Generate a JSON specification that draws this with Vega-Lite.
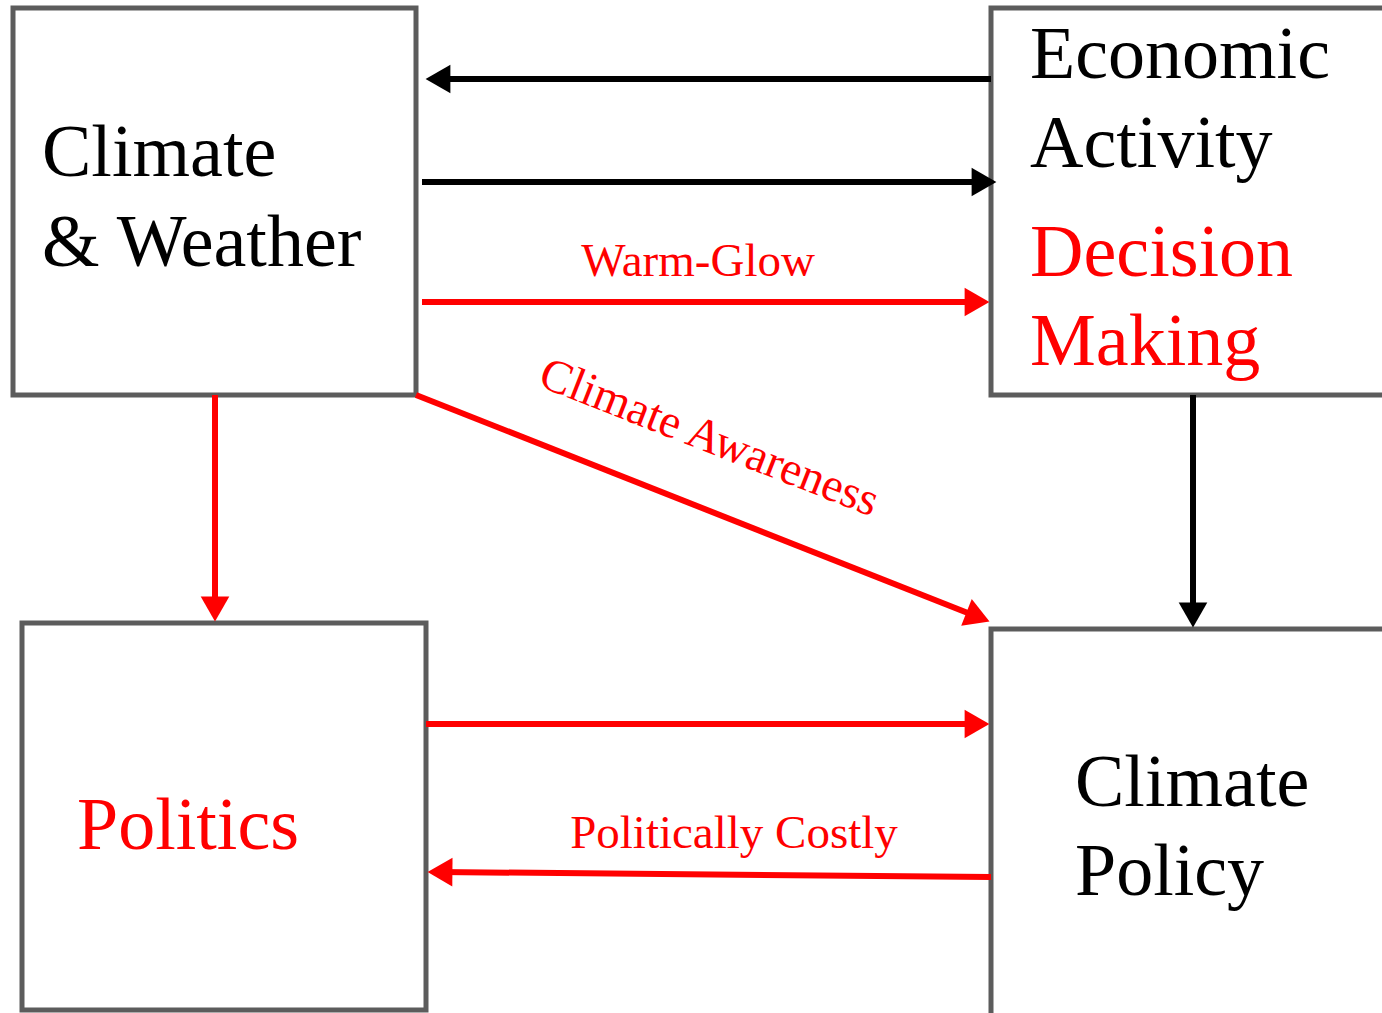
{
  "$schema": "https://vega.github.io/schema/vega-lite/v6.json",
  "width": 1382,
  "height": 1013,
  "autosize": {"type": "fit", "contains": "padding"},
  "padding": 0,
  "background": "white",
  "config": {"view": {"stroke": null}},
  "datasets": {
    "boxes": [
      {"node": "Climate & Weather", "left": 13, "right": 416, "top": 8, "bottom": 395},
      {"node": "Economic Activity / Decision Making", "left": 991, "right": 1400, "top": 8, "bottom": 395},
      {"node": "Politics", "left": 22, "right": 426, "top": 623, "bottom": 1010},
      {"node": "Climate Policy", "left": 991, "right": 1400, "top": 629, "bottom": 1030}
    ],
    "edges": [
      {"edge": "Economic Activity to Climate & Weather", "x1": 991, "y1": 79, "x2": 438, "y2": 79, "hx": 438, "hy": 79, "dir": 270, "type": "standard"},
      {"edge": "Climate & Weather to Economic Activity", "x1": 422, "y1": 182, "x2": 984, "y2": 182, "hx": 984, "hy": 182, "dir": 90, "type": "standard"},
      {"edge": "Warm-Glow", "x1": 422, "y1": 302, "x2": 977, "y2": 302, "hx": 977, "hy": 302, "dir": 90, "type": "new"},
      {"edge": "Climate Awareness", "x1": 416, "y1": 395, "x2": 978, "y2": 617, "hx": 978, "hy": 617, "dir": 111.6, "type": "new"},
      {"edge": "Climate & Weather to Politics", "x1": 215, "y1": 395, "x2": 215, "y2": 609, "hx": 215, "hy": 609, "dir": 180, "type": "new"},
      {"edge": "Decision Making to Climate Policy", "x1": 1193, "y1": 395, "x2": 1193, "y2": 615, "hx": 1193, "hy": 615, "dir": 180, "type": "standard"},
      {"edge": "Politics to Climate Policy", "x1": 426, "y1": 724, "x2": 977, "y2": 724, "hx": 977, "hy": 724, "dir": 90, "type": "new"},
      {"edge": "Politically Costly", "x1": 991, "y1": 877, "x2": 440, "y2": 872, "hx": 440, "hy": 872, "dir": 270.5, "type": "new"}
    ],
    "nodeLabels": [
      {"label": "Climate", "x": 42, "y": 176, "type": "standard"},
      {"label": "& Weather", "x": 42, "y": 266, "type": "standard"},
      {"label": "Economic", "x": 1030, "y": 78, "type": "standard"},
      {"label": "Activity", "x": 1030, "y": 167, "type": "standard"},
      {"label": "Decision", "x": 1030, "y": 276, "type": "new"},
      {"label": "Making", "x": 1030, "y": 365, "type": "new"},
      {"label": "Politics", "x": 77, "y": 849, "type": "new"},
      {"label": "Climate", "x": 1075, "y": 806, "type": "standard"},
      {"label": "Policy", "x": 1075, "y": 895, "type": "standard"}
    ],
    "edgeLabels": [
      {"label": "Warm-Glow", "x": 698, "y": 276, "rot": 0, "type": "new"},
      {"label": "Climate Awareness", "x": 704, "y": 451, "rot": 21.4, "type": "new"},
      {"label": "Politically Costly", "x": 734, "y": 848, "rot": 0, "type": "new"}
    ]
  },
  "layer": [
    {
      "data": {"name": "boxes"},
      "mark": {"type": "rect", "filled": false, "stroke": "#5c5c5c", "strokeWidth": 5, "strokeJoin": "miter", "clip": true},
      "encoding": {
        "x": {"field": "left", "type": "quantitative", "scale": {"domain": [0, 1382], "nice": false, "zero": false}, "axis": null},
        "x2": {"field": "right"},
        "y": {"field": "top", "type": "quantitative", "scale": {"domain": [0, 1013], "nice": false, "zero": false, "reverse": true}, "axis": null},
        "y2": {"field": "bottom"}
      }
    },
    {
      "data": {"name": "edges"},
      "mark": {"type": "rule", "strokeWidth": 6, "strokeCap": "butt"},
      "encoding": {
        "x": {"field": "x1", "type": "quantitative", "axis": null},
        "x2": {"field": "x2"},
        "y": {"field": "y1", "type": "quantitative", "axis": null},
        "y2": {"field": "y2"},
        "color": {"field": "type", "type": "nominal", "scale": {"domain": ["standard", "new"], "range": ["#000000", "#ff0000"]}, "legend": null}
      }
    },
    {
      "data": {"name": "edges"},
      "mark": {"type": "point", "shape": "triangle-up", "filled": true, "opacity": 1, "size": 820, "strokeWidth": 0},
      "encoding": {
        "x": {"field": "hx", "type": "quantitative", "axis": null},
        "y": {"field": "hy", "type": "quantitative", "axis": null},
        "angle": {"field": "dir", "type": "quantitative", "scale": null},
        "color": {"field": "type", "type": "nominal", "legend": null}
      }
    },
    {
      "data": {"name": "nodeLabels"},
      "mark": {"type": "text", "font": "Liberation Serif", "fontSize": 74, "align": "left", "baseline": "alphabetic"},
      "encoding": {
        "x": {"field": "x", "type": "quantitative", "axis": null},
        "y": {"field": "y", "type": "quantitative", "axis": null},
        "text": {"field": "label"},
        "color": {"field": "type", "type": "nominal", "legend": null}
      }
    },
    {
      "data": {"name": "edgeLabels"},
      "mark": {"type": "text", "font": "Liberation Serif", "fontSize": 47, "align": "center", "baseline": "alphabetic"},
      "encoding": {
        "x": {"field": "x", "type": "quantitative", "axis": null},
        "y": {"field": "y", "type": "quantitative", "axis": null},
        "angle": {"field": "rot", "type": "quantitative", "scale": null},
        "text": {"field": "label"},
        "color": {"field": "type", "type": "nominal", "legend": null}
      }
    }
  ]
}
